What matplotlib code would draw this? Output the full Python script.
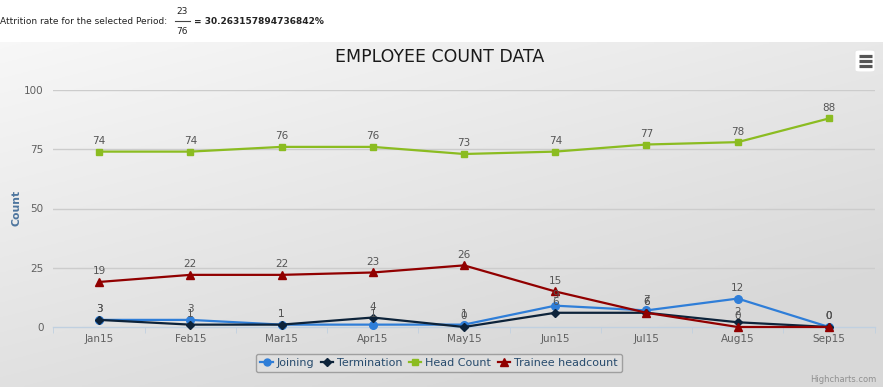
import numpy as np
import matplotlib
matplotlib.use("Agg")
import matplotlib.pyplot as plt
from matplotlib.patches import FancyBboxPatch
from matplotlib.lines import Line2D

categories = ["Jan15", "Feb15", "Mar15", "Apr15", "May15", "Jun15", "Jul15", "Aug15", "Sep15"]
joining = [3, 3, 1, 1, 1, 9, 7, 12, 0]
termination = [3, 1, 1, 4, 0, 6, 6, 2, 0]
head_count = [74, 74, 76, 76, 73, 74, 77, 78, 88]
trainee = [19, 22, 22, 23, 26, 15, 6, 0, 0]
y_ticks = [0, 25, 50, 75, 100]

W, H = 883, 387
fig = plt.figure(figsize=(W / 100, H / 100), dpi=100)
fig.patch.set_facecolor("white")

def fx(px):
    return px / W

def fy(py):
    return 1 - py / H

# chart background gradient (from y=42 to bottom)
bg = fig.add_axes([0, 0, 1, fy(42)], zorder=0)
bg.set_axis_off()
nx, ny = 300, 150
xx, yy = np.meshgrid(np.linspace(0, 1, nx), np.linspace(0, 1, ny))
t = np.clip((xx * 0.6 + yy * 0.9) / 1.2, 0, 1)
c0 = np.array([0.97, 0.97, 0.97])
c1 = np.array([0.85, 0.85, 0.85])
img = c0[None, None, :] * (1 - t[..., None]) + c1[None, None, :] * t[..., None]
bg.imshow(img, aspect="auto", extent=[0, 1, 0, 1], origin="upper")
bg.set_xlim(0, 1)
bg.set_ylim(0, 1)

# main axes
left, right = 53.4, 874.6
top, bottom = 90, 327
ax = fig.add_axes([fx(left), fy(bottom), fx(right - left), (bottom - top) / H], zorder=2)
ax.patch.set_alpha(0)

x = np.arange(len(categories))
series = [
    ("Joining", joining, "#2f7ed8", "o", 5.5),
    ("Termination", termination, "#0d233a", "D", 4.5),
    ("Head Count", head_count, "#8bbc21", "s", 5.0),
    ("Trainee headcount", trainee, "#910000", "^", 6.0),
]
handles = []
for name, vals, col, mk, ms in series:
    ax.plot(x, vals, color=col, lw=1.6, marker=mk, ms=ms, mec=col, mfc=col, zorder=3, clip_on=False)
    handles.append(Line2D([0], [0], color=col, lw=1.6, marker=mk, ms=ms - 0.5, mec=col, mfc=col))
    for xi, v in zip(x, vals):
        ax.annotate(str(v), (xi, v), xytext=(0, 4), textcoords="offset points",
                    ha="center", va="bottom", fontsize=7.5, color="#555555", zorder=4)

ax.set_xlim(-0.5, len(categories) - 0.5)
ax.set_ylim(0, 100)
ax.set_yticks(y_ticks)
ax.set_yticklabels([str(v) for v in y_ticks], fontsize=7.5, color="#606060")
ax.set_xticks(x)
ax.set_xticklabels(categories, fontsize=7.5, color="#606060")
ax.tick_params(axis="x", length=0, pad=5)
ax.tick_params(axis="y", length=0, pad=7)
ax.set_xticks(np.arange(-0.5, len(categories), 1), minor=True)
ax.tick_params(axis="x", which="minor", length=4, color="#c0d0e0", direction="out")
for yv in y_ticks[1:]:
    ax.axhline(yv, color="#cccccc", lw=1, zorder=1)
for s in ["top", "right", "left"]:
    ax.spines[s].set_visible(False)
ax.spines["bottom"].set_color("#c0d0e0")
ax.spines["bottom"].set_linewidth(1)

# y-axis title
fig.text(fx(16), fy(208), "Count", rotation=90, ha="center", va="center", fontsize=7.8,
         color="#4d759e", fontweight="bold")

# title
fig.text(fx(440), fy(57), "EMPLOYEE COUNT DATA", ha="center", va="center", fontsize=12.5, color="#1a1a1a")

# legend
leg = fig.legend(handles, [s[0] for s in series], loc="center", bbox_to_anchor=(fx(439), fy(363)),
                 ncol=4, fontsize=8, frameon=True, handlelength=1.1, handletextpad=0.35, columnspacing=0.6,
                 borderpad=0.4, fancybox=True)
leg.get_frame().set_edgecolor("#909090")
leg.get_frame().set_facecolor("#e0e0e0")
leg.get_frame().set_linewidth(1)
for txt in leg.get_texts():
    txt.set_color("#274b6d")

# credits
fig.text(fx(876), fy(380), "Highcharts.com", ha="right", va="center", fontsize=6, color="#909090")

# menu button
btn = FancyBboxPatch((fx(855), fy(72)), fx(20), 22 / H, boxstyle="round,pad=0,rounding_size=0.005",
                     transform=fig.transFigure, facecolor="white", edgecolor="#e6e6e6", lw=0.8, zorder=5)
fig.patches.append(btn)
for py in [55.5, 60.5, 65.5]:
    fig.add_artist(Line2D([fx(858.5), fx(871.5)], [fy(py), fy(py)], color="#555555", lw=2.3,
                          solid_capstyle="butt", zorder=6))

# top attrition text
fs_top = 6.5
fig.text(0, fy(21), "Attrition rate for the selected Period:", ha="left", va="center", fontsize=fs_top, color="#222222")
fig.text(fx(182), fy(11), "23", ha="center", va="center", fontsize=fs_top, color="#222222")
fig.add_artist(Line2D([fx(175), fx(190)], [fy(21), fy(21)], color="#444444", lw=0.8))
fig.text(fx(182), fy(31), "76", ha="center", va="center", fontsize=fs_top, color="#222222")
fig.text(fx(194), fy(21), "= 30.263157894736842%", ha="left", va="center", fontsize=fs_top,
         fontweight="bold", color="#222222")

fig.savefig("out.png", dpi=100)
